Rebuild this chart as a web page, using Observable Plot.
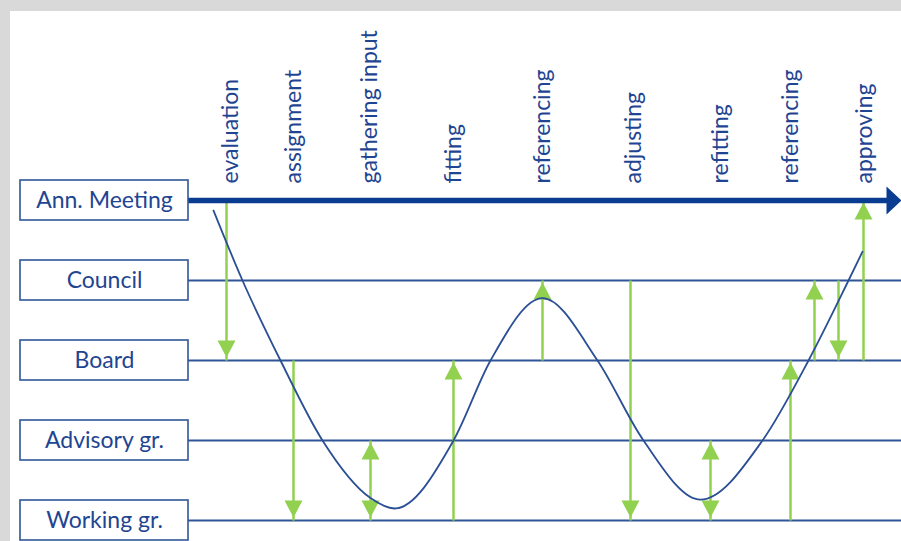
<!DOCTYPE html>
<html>
<head>
<meta charset="utf-8">
<script src="https://cdn.jsdelivr.net/npm/d3@7"></script>
<script src="https://cdn.jsdelivr.net/npm/@observablehq/plot@0.6"></script>
<style>
  html, body { margin: 0; padding: 0; background: #d9d9d9; }
  #chart { position: absolute; left: 10px; top: 11px; width: 891px; height: 530px; background: #ffffff; }
  svg { display: block; overflow: visible; }
</style>
</head>
<body>
<div id="chart"></div>
<script>
// Organisational levels (y value = level index)
const levelNames = ["Working gr.", "Advisory gr.", "Board", "Council", "Ann. Meeting"];
const levelValues = [0, 1, 2, 3, 4];

// Process stages along the timeline (x position)
const stageNames = ["evaluation", "assignment", "gathering input", "fitting", "referencing", "adjusting", "refitting", "referencing", "approving"];
const stageX = [230, 293, 369, 453, 542, 633, 720, 790, 864];

// Green arrows: x position, start level, end level, double-headed?
const arrowX    = [226, 293, 370, 453, 542, 630, 710, 790, 814, 838, 863];
const arrowFrom = [4,   2,   0,   0,   2,   3,   0,   0,   2,   3,   2];
const arrowTo   = [2,   0,   1,   2,   3,   0,   1,   2,   3,   2,   4];
const arrowBoth = [false, false, true, false, false, false, true, false, false, false, false];

// The blue wave (x position, level value)
const waveX = [213, 242, 280, 322, 370, 394, 453, 490, 542, 597, 643, 700, 762, 808, 848, 862];
const waveY = [3.875, 3.0, 2.0, 1.0, 0.28, 0.15, 1.0, 2.0, 2.78, 2.0, 1.0, 0.26, 1.0, 2.0, 3.0, 3.36];

// Timeline extent and box extent
const boxX1 = 20, boxX2 = 188, boxMid = 104, timelineEnd = 901;

const levels = levelNames.map((name, i) => ({name, v: levelValues[i]}));
const stages = stageNames.map((name, i) => ({name, x: stageX[i]}));
const arrows = arrowX.map((x, i) => ({x, from: arrowFrom[i], to: arrowTo[i], both: arrowBoth[i]}));
const wave = waveX.map((x, i) => ({x, y: waveY[i]}));

const heads = [];
for (const a of arrows) {
  heads.push({x: a.x, y: a.to, dir: a.to > a.from ? "up" : "down"});
  if (a.both) heads.push({x: a.x, y: a.from, dir: a.from > a.to ? "up" : "down"});
}

const upHead = {draw(ctx) { ctx.moveTo(0, 2); ctx.lineTo(9, 19); ctx.lineTo(-9, 19); ctx.closePath(); }};
const downHead = {draw(ctx) { ctx.moveTo(0, -3); ctx.lineTo(9, -20); ctx.lineTo(-9, -20); ctx.closePath(); }};
const rightHead = {draw(ctx) { ctx.moveTo(0, 0); ctx.lineTo(-15, -14); ctx.lineTo(-15, 14); ctx.closePath(); }};

const lineBlue = "#2f5597";
const darkBlue = "#0a3d91";
const green = "#92d050";
const textBlue = "#1f4592";
const font = "Lato, 'Open Sans', sans-serif";

const chart = Plot.plot({
  width: 891,
  height: 530,
  margin: 0,
  x: {domain: [10, 901], range: [0, 891], axis: null},
  y: {domain: [0, 4], range: [509, 189], axis: null},
  style: {background: "white", fontFamily: font, overflow: "visible"},
  marks: [
    Plot.ruleY(levels.filter(d => d.v < 4), {y: "v", x1: boxX2, x2: timelineEnd, stroke: lineBlue, strokeWidth: 2}),
    Plot.link(arrows, {x1: "x", x2: "x", y1: "from", y2: "to", stroke: green, strokeWidth: 2.5}),
    Plot.dot(heads.filter(d => d.dir === "up"), {x: "x", y: "y", symbol: upHead, fill: green, stroke: null, r: 5}),
    Plot.dot(heads.filter(d => d.dir === "down"), {x: "x", y: "y", symbol: downHead, fill: green, stroke: null, r: 5}),
    Plot.line(wave, {x: "x", y: "y", curve: "monotone-x", stroke: "#2a4f94", strokeWidth: 1.8}),
    Plot.ruleY([4], {x1: boxX2, x2: timelineEnd - 12, stroke: darkBlue, strokeWidth: 5.5}),
    Plot.dot([4], {x: () => timelineEnd, y: d => d, symbol: rightHead, fill: darkBlue, stroke: null, r: 5}),
    Plot.rect(levels, {x1: boxX1, x2: boxX2, y1: d => d.v - 0.25, y2: d => d.v + 0.25, fill: "white", stroke: lineBlue, strokeWidth: 1.6}),
    Plot.text(levels, {x: boxMid, y: "v", text: "name", fontSize: 23, fill: textBlue, fontFamily: font}),
    Plot.text(stages, {x: "x", y: () => 4, text: "name", rotate: -90, textAnchor: "start", dy: -17, fontSize: 23, fill: textBlue, fontFamily: font})
  ]
});
document.getElementById("chart").appendChild(chart);
</script>
</body>
</html>
